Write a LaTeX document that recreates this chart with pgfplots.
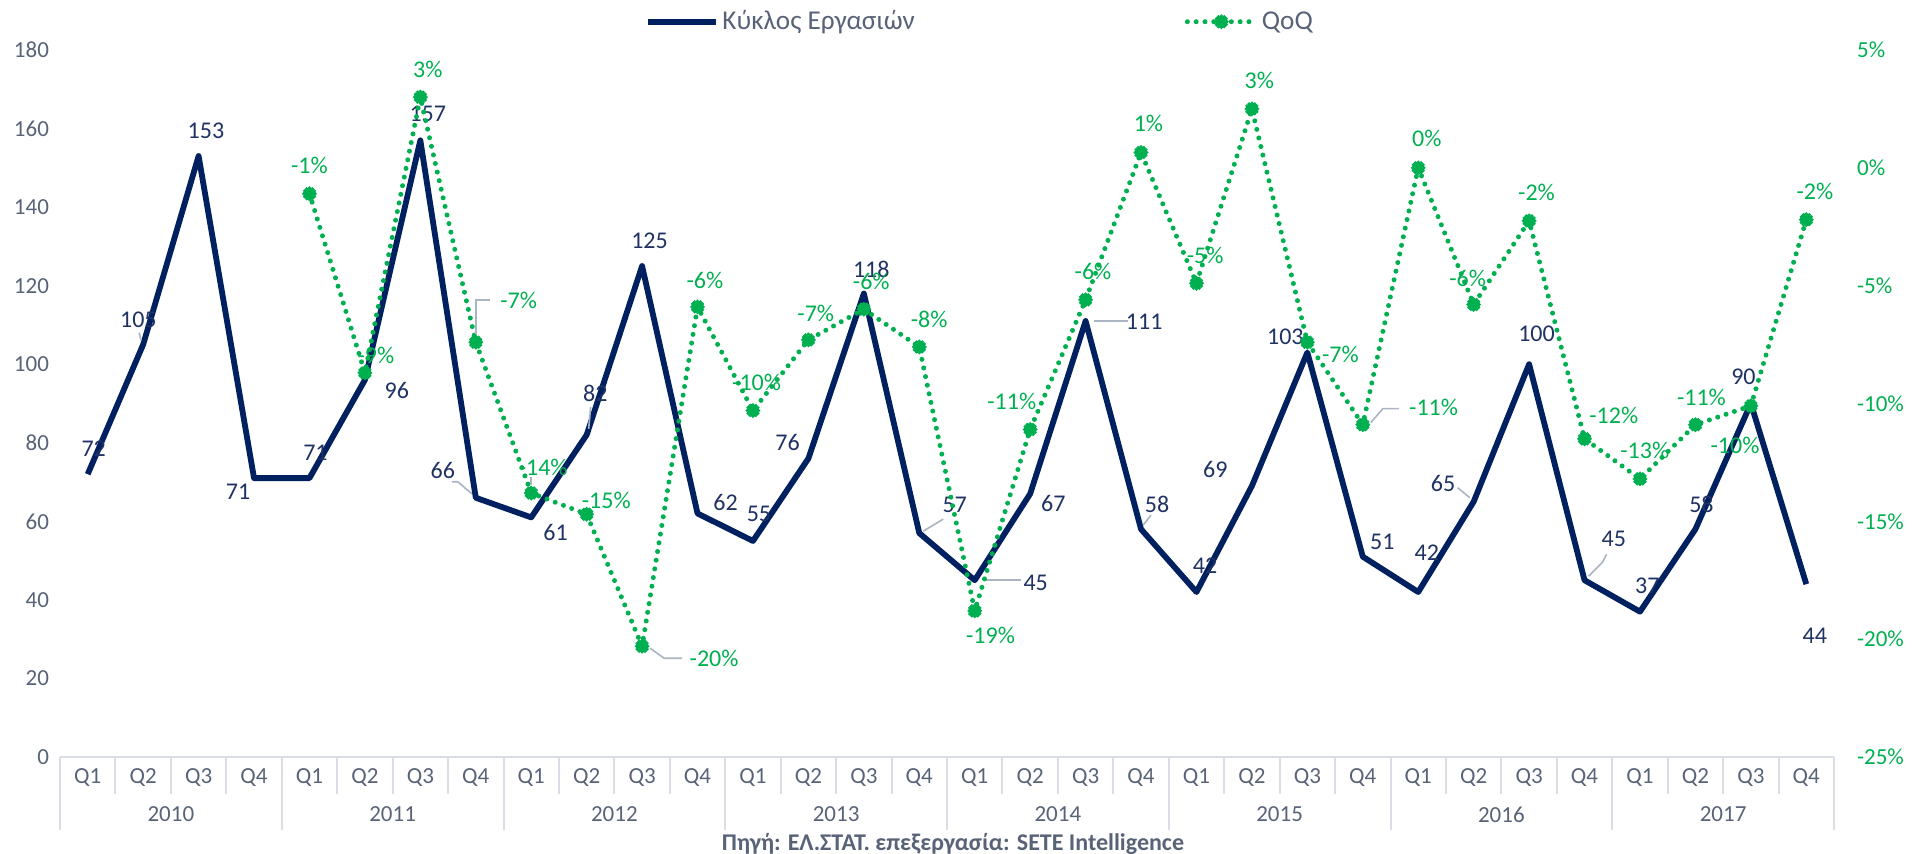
\documentclass[border=0pt]{standalone}
\usepackage{fontspec}
\setmainfont{Carlito}
\usepackage{pgfplots}
\usepackage{pgfplotstable}
\pgfplotsset{compat=1.18}
\definecolor{navy}{RGB}{0,32,96}
\definecolor{navytxt}{RGB}{31,50,100}
\definecolor{qgreen}{RGB}{0,176,80}
\definecolor{ticktxt}{RGB}{89,99,120}
\definecolor{sepcol}{RGB}{217,222,230}
\definecolor{leader}{RGB}{170,180,195}

\pgfdeclareplotmark{burst}{%
  \pgfpathcircle{\pgfpointorigin}{0.8\pgfplotmarksize}%
  \pgfpathcircle{\pgfpointpolar{0}{0.8\pgfplotmarksize}}{0.25\pgfplotmarksize}%
  \pgfpathcircle{\pgfpointpolar{30}{0.8\pgfplotmarksize}}{0.25\pgfplotmarksize}%
  \pgfpathcircle{\pgfpointpolar{60}{0.8\pgfplotmarksize}}{0.25\pgfplotmarksize}%
  \pgfpathcircle{\pgfpointpolar{90}{0.8\pgfplotmarksize}}{0.25\pgfplotmarksize}%
  \pgfpathcircle{\pgfpointpolar{120}{0.8\pgfplotmarksize}}{0.25\pgfplotmarksize}%
  \pgfpathcircle{\pgfpointpolar{150}{0.8\pgfplotmarksize}}{0.25\pgfplotmarksize}%
  \pgfpathcircle{\pgfpointpolar{180}{0.8\pgfplotmarksize}}{0.25\pgfplotmarksize}%
  \pgfpathcircle{\pgfpointpolar{210}{0.8\pgfplotmarksize}}{0.25\pgfplotmarksize}%
  \pgfpathcircle{\pgfpointpolar{240}{0.8\pgfplotmarksize}}{0.25\pgfplotmarksize}%
  \pgfpathcircle{\pgfpointpolar{270}{0.8\pgfplotmarksize}}{0.25\pgfplotmarksize}%
  \pgfpathcircle{\pgfpointpolar{300}{0.8\pgfplotmarksize}}{0.25\pgfplotmarksize}%
  \pgfpathcircle{\pgfpointpolar{330}{0.8\pgfplotmarksize}}{0.25\pgfplotmarksize}%
  \pgfusepathqfill
}

\pgfplotstableread{
x v dx dy
0 72 3 12.8
1 105 -2.4 12.2
2 153 3.7 12.8
3 71 -8 -6.7
4 71 3 12.8
5 96 16 -5.5
6 157 3.7 13.4
7 66 -16.5 13.4
8 61 12.2 -7.3
9 82 4.3 21
10 125 3.7 12.8
11 62 14 5.5
12 55 3 13.4
13 76 -10.4 8
14 118 3.7 12.2
15 57 17.7 14
16 45 30.5 -1.2
17 67 11.6 -4.9
18 111 29.3 -0.6
19 58 8 12.2
20 42 4.3 13.4
21 69 -18.3 8
22 103 -11 8
23 51 9.8 7.3
24 42 4.3 19.5
25 65 -15.3 9.2
26 100 3.7 15.3
27 45 14.6 20.7
28 37 3.7 12.8
29 58 3 12.2
30 90 -3.7 13.4
31 44 4.3 -26
}\revtable

\pgfplotstableread{
x q lab dx dy
4 -1.1 -1 0 14
5 -8.7 -9 5.5 8.5
6 3.0 3 3.7 14
7 -7.4 -7 21.4 20.7
8 -13.8 -14 6 12.8
9 -14.7 -15 9.8 6.7
10 -20.3 -20 36 -6.1
11 -5.9 -6 3.7 13.4
12 -10.3 -10 1.8 14
13 -7.3 -7 3.7 13.4
14 -6.0 -6 3.7 14
15 -7.6 -8 4.9 14
16 -18.8 -19 7.9 -12.2
17 -11.1 -11 -9.2 14
18 -5.6 -6 3.7 14
19 0.65 1 3.7 14.6
20 -4.9 -5 4.3 14
21 2.5 3 3.7 14
22 -7.4 -7 16.5 -6.1
23 -10.9 -11 35.4 8.5
24 0.0 0 4.3 14.6
25 -5.8 -6 -3 12.8
26 -2.25 -2 3.7 14
27 -11.5 -12 14.6 11.6
28 -13.2 -13 2.4 14
29 -10.9 -11 3 13.4
30 -10.1 -10 -7.9 -20
31 -2.2 -2 4.3 14
}\qoqtable

\pgfplotsset{
  common/.style={
    scale only axis, width=887pt, height=353.5pt,
    xmin=-0.5, xmax=31.5, clip=false,
    /pgf/number format/assume math mode=true,
    major tick length=0pt,
  },
  dotq/.style={qgreen, line width=2.5pt, dash pattern=on 0pt off 4.4pt, line cap=round, line join=round},
  navylegend/.style={legend image code/.code={\draw[##1] (0pt,0pt) -- (34pt,0pt);}},
  qlegend/.style={legend image code/.code={\draw[##1, mark=none] (0pt,0pt) -- (34pt,0pt); \draw[##1] plot coordinates {(17pt,0pt)};}},
}

\begin{document}
\begin{tikzpicture}
\begin{axis}[common,
  ymin=0, ymax=180, ytick={0,20,...,180},
  axis x line*=bottom, axis y line*=left,
  y axis line style={draw=none},
  x axis line style={draw=sepcol, line width=1pt, -},
  yticklabel style={font=\fontsize{11.5}{13}\selectfont, text=ticktxt, xshift=-2pt},
  xtick={0,...,31},
  xticklabels={Q1,Q2,Q3,Q4,Q1,Q2,Q3,Q4,Q1,Q2,Q3,Q4,Q1,Q2,Q3,Q4,Q1,Q2,Q3,Q4,Q1,Q2,Q3,Q4,Q1,Q2,Q3,Q4,Q1,Q2,Q3,Q4},
  xticklabel style={font=\fontsize{11.5}{13}\selectfont, text=ticktxt, anchor=center, yshift=-10.5pt},
  legend columns=2,
  legend style={draw=none, fill=none, at={(0.519,1.04)}, anchor=center,
    font=\fontsize{13.6}{15}\selectfont, text=ticktxt,
    /tikz/every even column/.append style={column sep=133pt},
    nodes={inner sep=2pt}},
]
\pgfplotsinvokeforeach{0,...,8}{\draw[sepcol, line width=1pt] (axis cs:{4*#1-0.5},0) -- ++(0pt,-36.6pt);}
\pgfplotsinvokeforeach{0,...,7}{
  \draw[sepcol, line width=1pt] (axis cs:{4*#1+0.5},0) -- ++(0pt,-18.3pt);
  \draw[sepcol, line width=1pt] (axis cs:{4*#1+1.5},0) -- ++(0pt,-18.3pt);
  \draw[sepcol, line width=1pt] (axis cs:{4*#1+2.5},0) -- ++(0pt,-18.3pt);
}
\addplot[navy, line width=2.9pt, line join=round, mark=none, navylegend,
  point meta=explicit symbolic,
  visualization depends on={\thisrow{dx}\as\dx},
  visualization depends on={\thisrow{dy}\as\dy},
  nodes near coords,
  every node near coord/.append style={anchor=center, xshift=\dx pt, yshift=\dy pt,
     font=\fontsize{12}{14}\selectfont, text=navytxt, inner sep=0pt},
] table[x=x, y=v, meta=v] {\revtable};
\addlegendentry{Κύκλος Εργασιών}
\addlegendimage{dotq, mark=burst, mark size=3.6pt, mark options={solid, fill=qgreen, draw=none}, qlegend}
\addlegendentry{QoQ}
% leader lines (navy)
\draw[leader, line width=0.8pt] ([shift={(4pt,0pt)}]axis cs:16,45) -- ([shift={(23pt,0pt)}]axis cs:16,45);
\draw[leader, line width=0.8pt] ([shift={(4pt,0pt)}]axis cs:18,111) -- ([shift={(21pt,0pt)}]axis cs:18,111);
\draw[leader, line width=0.8pt] ([shift={(2pt,1pt)}]axis cs:15,57) -- ([shift={(12pt,7pt)}]axis cs:15,57);
\draw[leader, line width=0.8pt] ([shift={(-2pt,2pt)}]axis cs:7,66) -- ([shift={(-9pt,8pt)}]axis cs:7,66) -- ([shift={(-12pt,8pt)}]axis cs:7,66);
\draw[leader, line width=0.8pt] ([shift={(2pt,2pt)}]axis cs:27,45) -- ([shift={(9pt,9pt)}]axis cs:27,45) -- ([shift={(11pt,13pt)}]axis cs:27,45);
\draw[leader, line width=0.8pt] ([shift={(-2pt,2pt)}]axis cs:25,65) -- ([shift={(-8pt,7pt)}]axis cs:25,65);
\draw[leader, line width=0.8pt] ([shift={(1pt,2pt)}]axis cs:19,58) -- ([shift={(5pt,7pt)}]axis cs:19,58);
\draw[leader, line width=0.8pt] ([shift={(-1pt,2pt)}]axis cs:1,105) -- ([shift={(-2pt,6pt)}]axis cs:1,105);
\draw[leader, line width=0.8pt] ([shift={(1pt,3pt)}]axis cs:9,82) -- ([shift={(2pt,14pt)}]axis cs:9,82);
% year labels
\node[font=\fontsize{11.5}{13}\selectfont, text=ticktxt] at ([yshift=-28.7pt]axis cs:1.5,0) {2010};
\node[font=\fontsize{11.5}{13}\selectfont, text=ticktxt] at ([yshift=-28.7pt]axis cs:5.5,0) {2011};
\node[font=\fontsize{11.5}{13}\selectfont, text=ticktxt] at ([yshift=-28.7pt]axis cs:9.5,0) {2012};
\node[font=\fontsize{11.5}{13}\selectfont, text=ticktxt] at ([yshift=-28.7pt]axis cs:13.5,0) {2013};
\node[font=\fontsize{11.5}{13}\selectfont, text=ticktxt] at ([yshift=-28.7pt]axis cs:17.5,0) {2014};
\node[font=\fontsize{11.5}{13}\selectfont, text=ticktxt] at ([yshift=-28.7pt]axis cs:21.5,0) {2015};
\node[font=\fontsize{11.5}{13}\selectfont, text=ticktxt] at ([yshift=-28.7pt]axis cs:25.5,0) {2016};
\node[font=\fontsize{11.5}{13}\selectfont, text=ticktxt] at ([yshift=-28.7pt]axis cs:29.5,0) {2017};
\node[font=\bfseries\fontsize{12}{13}\selectfont, text=ticktxt] at ([shift={(3pt,-43.3pt)}]axis cs:15.5,0) {Πηγή: ΕΛ.ΣΤΑΤ. επεξεργασία: SETE Intelligence};
\end{axis}
\begin{axis}[common,
  ymin=-25, ymax=5, ytick={-25,-20,...,5},
  axis y line*=right, axis x line=none,
  y axis line style={draw=none},
  yticklabel={\pgfmathprintnumber{\tick}\%},
  yticklabel style={font=\fontsize{11.5}{13}\selectfont, text=qgreen, xshift=8pt},
]
\addplot[dotq, mark=burst, mark size=3.6pt, mark options={solid, fill=qgreen, draw=none},
  point meta=explicit symbolic,
  visualization depends on={\thisrow{dx}\as\dx},
  visualization depends on={\thisrow{dy}\as\dy},
  nodes near coords={\pgfplotspointmeta\%},
  every node near coord/.append style={anchor=center, xshift=\dx pt, yshift=\dy pt,
     font=\fontsize{12}{14}\selectfont, text=qgreen, inner sep=0pt},
] table[x=x, y=q, meta=lab] {\qoqtable};
\draw[leader, line width=0.8pt] ([shift={(0pt,4pt)}]axis cs:7,-7.4) -- ([shift={(0pt,21pt)}]axis cs:7,-7.4) -- ([shift={(7pt,21pt)}]axis cs:7,-7.4);
\draw[leader, line width=0.8pt] ([shift={(4pt,-1pt)}]axis cs:10,-20.3) -- ([shift={(11pt,-6pt)}]axis cs:10,-20.3) -- ([shift={(20pt,-6pt)}]axis cs:10,-20.3);
\draw[leader, line width=0.8pt] ([shift={(4pt,1pt)}]axis cs:23,-10.9) -- ([shift={(10pt,8pt)}]axis cs:23,-10.9) -- ([shift={(18pt,8pt)}]axis cs:23,-10.9);
\draw[leader, line width=0.8pt] ([shift={(0pt,4pt)}]axis cs:8,-13.8) -- ([shift={(0pt,8pt)}]axis cs:8,-13.8);
\end{axis}
\pgfresetboundingbox
\path[use as bounding box] (-30pt,-48.5pt) rectangle (927pt,378.5pt);
\end{tikzpicture}
\end{document}
